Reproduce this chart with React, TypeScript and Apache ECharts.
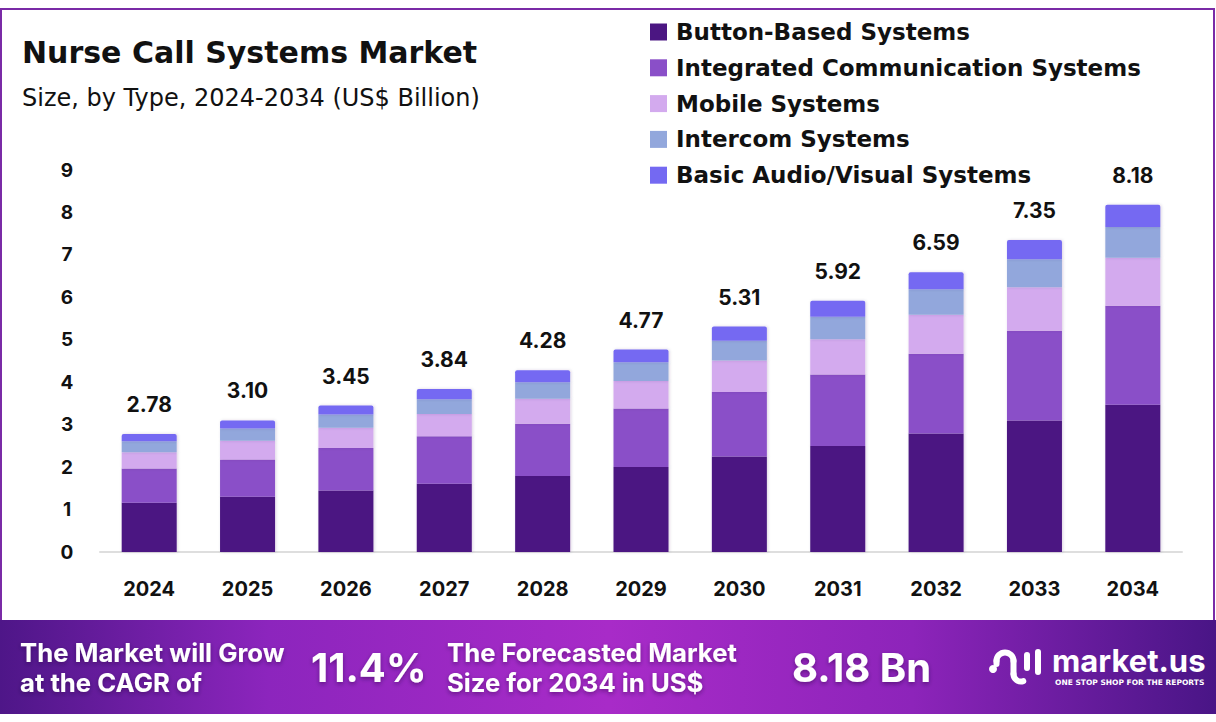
import React, { useEffect, useRef } from "react";
import * as echarts from "echarts";

const categories = ["2024", "2025", "2026", "2027", "2028", "2029", "2030", "2031", "2032", "2033", "2034"];
const buttonBased = [1.16, 1.3, 1.45, 1.61, 1.79, 2.0, 2.25, 2.5, 2.79, 3.1, 3.47];
const integratedComm = [0.81, 0.88, 1.0, 1.12, 1.23, 1.38, 1.52, 1.68, 1.88, 2.11, 2.33];
const mobileSystems = [0.38, 0.44, 0.48, 0.52, 0.59, 0.65, 0.74, 0.83, 0.92, 1.03, 1.13];
const intercomSystems = [0.26, 0.29, 0.31, 0.35, 0.39, 0.44, 0.47, 0.53, 0.6, 0.66, 0.73];
const basicAV = [0.17, 0.19, 0.21, 0.24, 0.28, 0.3, 0.33, 0.38, 0.4, 0.45, 0.52];
const totalLabels = ["2.78", "3.10", "3.45", "3.84", "4.28", "4.77", "5.31", "5.92", "6.59", "7.35", "8.18"];
const yTicks = [0, 1, 2, 3, 4, 5, 6, 7, 8, 9];

const seriesNames = [
  "Button-Based Systems",
  "Integrated Communication Systems",
  "Mobile Systems",
  "Intercom Systems",
  "Basic Audio/Visual Systems",
];
const seriesColors = ["#4b1682", "#8a4fc8", "#d3aaee", "#92a7dc", "#7469f2"];

const FONT = "Inter, 'Noto Sans', sans-serif";
const WIDE = "'DejaVu Sans', Inter, sans-serif";

export default function App() {
  const ref = useRef<HTMLDivElement>(null);

  useEffect(() => {
    if (!ref.current) return;
    const chart = echarts.init(ref.current, undefined, { renderer: "svg" });
    const seriesData = [buttonBased, integratedComm, mobileSystems, intercomSystems, basicAV];

    const series: any[] = seriesData.map((d, i) => ({
      name: seriesNames[i],
      type: "bar",
      stack: "total",
      data: d,
      barWidth: 55,
      itemStyle: {
        color: seriesColors[i],
        shadowColor: "rgba(60,20,90,0.18)",
        shadowBlur: 3,
        shadowOffsetX: 1,
        borderRadius: i === 4 ? [2, 2, 0, 0] : 0,
      },
      label:
        i === 4
          ? {
              show: true,
              position: "top",
              distance: 19,
              formatter: (p: any) => totalLabels[p.dataIndex],
              fontFamily: FONT,
              fontWeight: 700,
              fontSize: 21,
              color: "#111111",
            }
          : { show: false },
      emphasis: { disabled: true },
    }));

    const white = "#ffffff";
    const bannerText = (text: string, x: number, y: number, size: number) => ({
      type: "text",
      x,
      y,
      style: {
        text,
        fill: white,
        fontFamily: FONT,
        fontWeight: 700,
        fontSize: size,
        textVerticalAlign: "middle",
        textShadowColor: "rgba(40,0,60,0.45)",
        textShadowBlur: 4,
        textShadowOffsetY: 2,
      },
      z: 20,
    });
    const stroke = { stroke: white, lineWidth: 6, lineCap: "round", fill: "none" };

    chart.setOption({
      animation: false,
      backgroundColor: "#ffffff",
      grid: { left: 100, right: 34, top: 170, bottom: 170, containLabel: false },
      legend: {
        orient: "vertical",
        left: 650,
        top: 20.5,
        padding: 0,
        itemWidth: 17,
        itemHeight: 17,
        itemGap: 12.8,
        icon: "rect",
        data: seriesNames,
        selectedMode: false,
        textStyle: {
          fontFamily: WIDE,
          fontWeight: 600,
          fontSize: 23,
          color: "#111111",
          padding: [0, 0, 0, 4],
        },
      },
      xAxis: {
        type: "category",
        data: categories,
        axisLine: { lineStyle: { color: "#dedede", width: 2 } },
        axisTick: { show: false },
        axisLabel: {
          margin: 27,
          fontFamily: FONT,
          fontWeight: 700,
          fontSize: 20,
          color: "#111111",
        },
      },
      yAxis: {
        type: "value",
        min: yTicks[0],
        max: yTicks[yTicks.length - 1],
        interval: 1,
        splitLine: { show: false },
        axisLine: { show: false },
        axisTick: { show: false },
        axisLabel: {
          margin: 33,
          align: "center",
          fontFamily: FONT,
          fontWeight: 700,
          fontSize: 19,
          color: "#111111",
        },
      },
      series,
      graphic: [
        {
          type: "rect",
          shape: { x: 1, y: 9, width: 1213, height: 614 },
          style: { fill: "none", stroke: "#7a2aa6", lineWidth: 2 },
          z: 1,
          silent: true,
        },
        {
          type: "text",
          x: 22,
          y: 52,
          style: {
            text: "Nurse Call Systems Market",
            fill: "#111111",
            fontFamily: WIDE,
            fontWeight: 700,
            fontSize: 30,
            textVerticalAlign: "middle",
          },
        },
        {
          type: "text",
          x: 22,
          y: 98,
          style: {
            text: "Size, by Type, 2024-2034 (US$ Billion)",
            fill: "#111111",
            fontFamily: WIDE,
            fontWeight: 400,
            fontSize: 24,
            textVerticalAlign: "middle",
          },
        },
        {
          type: "rect",
          shape: { x: 0, y: 620, width: 1216, height: 94 },
          style: {
            fill: new echarts.graphic.LinearGradient(0, 0, 1, 0, [
              { offset: 0, color: "#4e1688" },
              { offset: 0.22, color: "#8c25bd" },
              { offset: 0.5, color: "#a82bc8" },
              { offset: 0.75, color: "#8d24ba" },
              { offset: 1, color: "#491586" },
            ]),
          },
          z: 10,
          silent: true,
        },
        bannerText("The Market will Grow", 20, 652, 25.7),
        bannerText("at the CAGR of", 20, 682, 25.7),
        bannerText("11.4%", 311, 667, 40),
        bannerText("The Forecasted Market", 447, 652, 25.7),
        bannerText("Size for 2034 in US$", 447, 682, 25.7),
        bannerText("8.18 Bn", 792, 667, 40),
        // logo icon
        { type: "circle", shape: { cx: 993, cy: 669, r: 4 }, style: { fill: white }, z: 20 },
        {
          type: "arc",
          shape: { cx: 1005, cy: 661, r: 8.5, startAngle: Math.PI, endAngle: Math.PI * 2 },
          style: stroke,
          z: 20,
        },
        { type: "polyline", shape: { points: [[996.5, 661], [996.5, 664]] }, style: stroke, z: 20 },
        { type: "polyline", shape: { points: [[1013.5, 661], [1013.5, 674]] }, style: stroke, z: 20 },
        {
          type: "arc",
          shape: { cx: 1021, cy: 674, r: 7.5, startAngle: Math.PI * 0.4, endAngle: Math.PI },
          style: stroke,
          z: 20,
        },
        { type: "polyline", shape: { points: [[1027, 655], [1027, 668]] }, style: stroke, z: 20 },
        { type: "polyline", shape: { points: [[1038, 652], [1038, 672]] }, style: stroke, z: 20 },
        {
          type: "text",
          x: 1052,
          y: 660,
          style: {
            text: "market.us",
            fill: white,
            fontFamily: FONT,
            fontWeight: 700,
            fontSize: 31,
            textVerticalAlign: "middle",
          },
          z: 20,
        },
        {
          type: "text",
          x: 1055,
          y: 682,
          style: {
            text: "ONE STOP SHOP FOR THE REPORTS",
            fill: white,
            fontFamily: WIDE,
            fontWeight: 700,
            fontSize: 7.5,
            textVerticalAlign: "middle",
          },
          z: 20,
        },
      ],
    });

    return () => chart.dispose();
  }, []);

  return (
    <div
      ref={ref}
      style={{ position: "absolute", left: 0, top: 0, width: 1216, height: 722 }}
    />
  );
}
